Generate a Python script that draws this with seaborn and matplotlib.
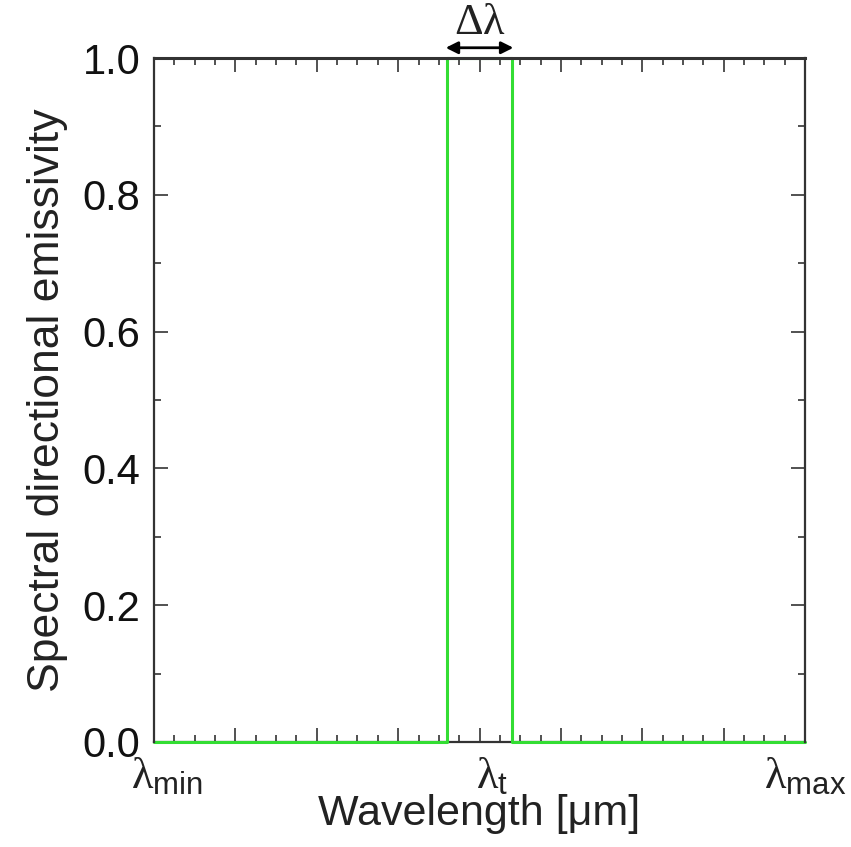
import numpy as np
import pandas as pd
import matplotlib
matplotlib.use("Agg")
import matplotlib.pyplot as plt
import matplotlib.transforms as mtransforms
import seaborn as sns

# Data
wavelength = [0.0, 3.6, 3.6, 4.4, 4.4, 8.0]
emissivity = [0.0, 0.0, 1.0, 1.0, 0.0, 0.0]
x_tick_pos = [0, 1, 2, 3, 4, 5, 6, 7, 8]
x_tick_labels = [r'$\mathrm{\lambda}_{\mathsf{min}}$', '', '', '', r'$\mathrm{\lambda}_{\mathsf{t}}$', '', '', '', r'$\mathrm{\lambda}_{\mathsf{max}}$']
y_ticks = [0.0, 0.2, 0.4, 0.6, 0.8, 1.0]
y_tick_labels = ['0.0', '0.2', '0.4', '0.6', '0.8', '1.0']

sns.set_style("ticks")
plt.rcParams['font.family'] = ['Liberation Sans', 'DejaVu Sans']
plt.rcParams['mathtext.fontset'] = 'custom'
plt.rcParams['mathtext.rm'] = 'Liberation Serif'
plt.rcParams['mathtext.it'] = 'Liberation Serif:italic'
plt.rcParams['mathtext.sf'] = 'Liberation Sans'

df = pd.DataFrame({'Wavelength': wavelength, 'Emissivity': emissivity})

fig = plt.figure(figsize=(8.51, 8.47), dpi=100)
ax = fig.add_axes([0.181, 0.124, 0.765, 0.8075])

sns.lineplot(data=df, x='Wavelength', y='Emissivity', sort=False, estimator=None,
             ax=ax, color='#33DD33', linewidth=2.2, zorder=3)
for ln in ax.lines:
    ln.set_clip_on(False)

ax.set_xlim(0, 8)
ax.set_ylim(0, 1)

ax.set_xticks(x_tick_pos)
ax.set_xticklabels(x_tick_labels, fontsize=32, color='#222222')
ax.set_xticks(np.arange(0, 8.01, 0.25), minor=True)
ax.set_yticks(y_ticks)
ax.set_yticklabels(y_tick_labels, fontsize=30, color='#111111')
ax.set_yticks(np.arange(0, 1.01, 0.1), minor=True)

ax.tick_params(which='both', direction='in', top=True, right=True, color='#222222')
ax.tick_params(which='major', length=10, width=1.1)
ax.tick_params(which='minor', length=5, width=1.1)
ax.tick_params(axis='x', which='major', pad=10)
ax.tick_params(axis='y', which='major', pad=10)

# nudge first and centre wavelength labels slightly right, like the reference
shift = mtransforms.ScaledTranslation(9 / 72, 0, fig.dpi_scale_trans)
for lbl in ax.get_xticklabels():
    if lbl.get_text() in (x_tick_labels[0], x_tick_labels[4]):
        lbl.set_transform(lbl.get_transform() + shift)

for s in ax.spines.values():
    s.set_linewidth(1.6)
    s.set_color('#333333')
    s.set_visible(True)
ax.spines['top'].set_zorder(4)
ax.spines['top'].set_linewidth(2.2)
ax.spines['bottom'].set_zorder(1)
ax.spines['left'].set_zorder(4)
ax.spines['right'].set_zorder(4)

ax.set_xlabel('Wavelength [μm]', fontsize=31, labelpad=-2, color='#222222')
ax.set_ylabel('Spectral directional emissivity', fontsize=32, labelpad=10, color='#222222')

ax.annotate('', xy=(3.55, 1.015), xytext=(4.45, 1.015), xycoords='data',
            arrowprops=dict(arrowstyle='<|-|>', color='black', lw=2,
                            mutation_scale=18), annotation_clip=False)
ax.text(4.0, 1.022, r'$\mathrm{\Delta\lambda}$', ha='center', va='bottom', fontsize=32,
        color='#222222', transform=ax.transData, clip_on=False)

fig.savefig('out.png', dpi=100)
